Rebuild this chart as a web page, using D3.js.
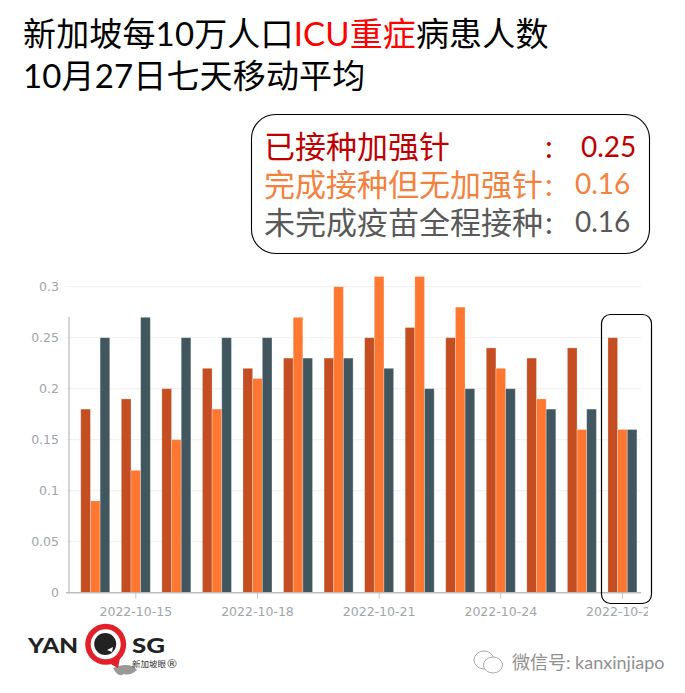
<!DOCTYPE html>
<html><head><meta charset="UTF-8"><script src="https://d3js.org/d3.v7.min.js"></script><style>
body{margin:0;background:#fff;overflow:hidden}
text{font-family:Lato,"Noto Sans CJK SC",sans-serif}
.tick-label{font-family:"DejaVu Sans",sans-serif;font-size:12.5px;fill:#a0a5a9}
</style></head><body><div id="chart"></div><script>
const dates = ['2022-10-14','2022-10-15','2022-10-16','2022-10-17','2022-10-18','2022-10-19','2022-10-20','2022-10-21','2022-10-22','2022-10-23','2022-10-24','2022-10-25','2022-10-26','2022-10-27'];
const boosted = [0.18,0.19,0.2,0.22,0.22,0.23,0.23,0.25,0.26,0.25,0.24,0.23,0.24,0.25];
const noBooster = [0.09,0.12,0.15,0.18,0.21,0.27,0.3,0.31,0.31,0.28,0.22,0.19,0.16,0.16];
const unvaccinated = [0.25,0.27,0.25,0.25,0.25,0.23,0.23,0.22,0.2,0.2,0.2,0.18,0.18,0.16];
const yTicks = [0,0.05,0.1,0.15,0.2,0.25,0.3];
const xTicks = ['2022-10-15','2022-10-18','2022-10-21','2022-10-24','2022-10-27'];
const seriesColors = ['#c44d22','#ff7730','#41565e'];
const legendRows = [
  {label:'已接种加强针', value:'0.25', color:'#c00000'},
  {label:'完成接种但无加强针', value:'0.16', color:'#f4813c'},
  {label:'未完成疫苗全程接种', value:'0.16', color:'#595959'}
];

const svg = d3.select('#chart').append('svg').attr('width',685).attr('height',693);
svg.append('defs').append('clipPath').attr('id','xclip').append('rect')
  .attr('x',60).attr('y',590).attr('width',588).attr('height',35);

const x = d3.scaleBand().domain(dates).range([75,642.7]).paddingInner(0.285).paddingOuter(0.1425);
const x1 = d3.scaleBand().domain([0,1,2]).range([0,x.bandwidth()]);
const y = d3.scaleLinear().domain([0,0.3]).range([592.7,286.7]);

// grid
svg.append('g').selectAll('line').data(yTicks.slice(1)).join('line')
  .attr('x1',66).attr('x2',641).attr('y1',d=>y(d)).attr('y2',d=>y(d))
  .attr('stroke','#f3f3f3').attr('stroke-width',1.2);

// bars
[boosted,noBooster,unvaccinated].forEach((vals,i) => {
  svg.append('g').selectAll('rect').data(vals).join('rect')
    .attr('x',(d,j)=>x(dates[j])+x1(i))
    .attr('y',d=>y(d))
    .attr('width',x1.bandwidth())
    .attr('height',d=>y(0)-y(d))
    .attr('fill',seriesColors[i])
    .attr('stroke','#fff').attr('stroke-opacity',0.35).attr('stroke-width',0.8);
});

// axes
const yAxis = d3.axisLeft(y).tickValues(yTicks).tickFormat(d=>String(d)).tickSize(0).tickPadding(10);
const yG = svg.append('g').attr('transform','translate(69,0)').call(yAxis);
yG.select('.domain').remove();
yG.selectAll('text').attr('class','tick-label');
svg.append('line').attr('x1',69).attr('x2',69).attr('y1',317).attr('y2',592.7).attr('stroke','#b4bbbf').attr('stroke-width',1.2);

// last label runs off the chart area, so the axis sits in a clipped group
const xAxis = d3.axisBottom(x).tickValues(xTicks).tickSize(6).tickPadding(8);
const xG = svg.append('g').attr('clip-path','url(#xclip)').append('g').attr('transform','translate(0,592.7)').call(xAxis);
xG.select('.domain').remove();
xG.selectAll('line').attr('stroke','#c4c8ca');
xG.selectAll('text').attr('class','tick-label');
svg.append('line').attr('x1',66).attr('x2',641).attr('y1',592.7).attr('y2',592.7).attr('stroke','#b9bdbf').attr('stroke-width',1.4);

// highlight box on latest day
svg.append('rect').attr('x',601.5).attr('y',314.5).attr('width',50).attr('height',289).attr('rx',9)
  .attr('fill','none').attr('stroke','#000').attr('stroke-width',1.2);

// title
const title = svg.append('text').attr('x',23).attr('y',46).attr('font-size',33).attr('letter-spacing',0.15).attr('fill','#000');
title.append('tspan').text('新加坡每10万人口');
title.append('tspan').attr('fill','#ff0000').text('ICU重症');
title.append('tspan').text('病患人数');
svg.append('text').attr('x',23).attr('y',88).attr('font-size',33).attr('letter-spacing',0.15).attr('fill','#000').text('10月27日七天移动平均');

// legend box
svg.append('rect').attr('x',251.5).attr('y',114.5).attr('width',398).attr('height',139).attr('rx',24)
  .attr('fill','#fff').attr('stroke','#000').attr('stroke-width',1.1);
const rowY = [158,196,234];
const valueY = [157,194,232];
legendRows.forEach((r,i) => {
  const g = svg.append('g').attr('fill',r.color).attr('font-size',31);
  g.append('text').attr('x',264).attr('y',rowY[i]).text(r.label);
  g.append('text').attr('x',545).attr('y',rowY[i]).text(':');
  g.append('text').attr('x',i==0?581:575).attr('y',valueY[i]).attr('font-size',28).text(r.value);
});

// logo
const logo = svg.append('g');
logo.append('text').attr('x',28).attr('y',653).attr('font-size',21).attr('font-weight',900).attr('font-family','Roboto').attr('fill','#222')
  .attr('textLength',50).attr('lengthAdjust','spacingAndGlyphs').text('YAN');
logo.append('text').attr('x',132).attr('y',653).attr('font-size',21).attr('font-weight',900).attr('font-family','Roboto').attr('fill','#222')
  .attr('textLength',33).attr('lengthAdjust','spacingAndGlyphs').text('SG');
logo.append('path').attr('d','M113 668q9-5 20-2l4 4q-7 6-13 4q-6 4-11-6z').attr('fill','#999');
logo.append('circle').attr('cx',105.7).attr('cy',644.3).attr('r',20.5).attr('fill','#e3202a');
logo.append('path').attr('d','M107 662L118 668L120 658z').attr('fill','#e3202a');
logo.append('circle').attr('cx',105.7).attr('cy',644.3).attr('r',15).attr('fill','#fff');
logo.append('circle').attr('cx',105.2).attr('cy',644).attr('r',11).attr('fill','#222');
logo.append('path').attr('d','M107 650l6-3l-1 5z').attr('fill','#fff');
logo.append('text').attr('x',132).attr('y',667).attr('font-size',8.5).attr('fill','#333').text('新加坡眼');
logo.append('text').attr('x',167).attr('y',668).attr('font-size',12).attr('fill','#333').text('®');

// wechat watermark
const wm = svg.append('g').attr('fill','#fff').attr('stroke','#a8a8a8').attr('stroke-width',1);
wm.append('ellipse').attr('cx',484).attr('cy',660).attr('rx',10).attr('ry',9);
wm.append('ellipse').attr('cx',493).attr('cy',665).attr('rx',9.5).attr('ry',8);
svg.append('text').attr('x',512).attr('y',669).attr('font-size',18).attr('fill','#909090').attr('font-family','"Noto Sans CJK SC"').text('微信号: kanxinjiapo');
</script></body></html>
